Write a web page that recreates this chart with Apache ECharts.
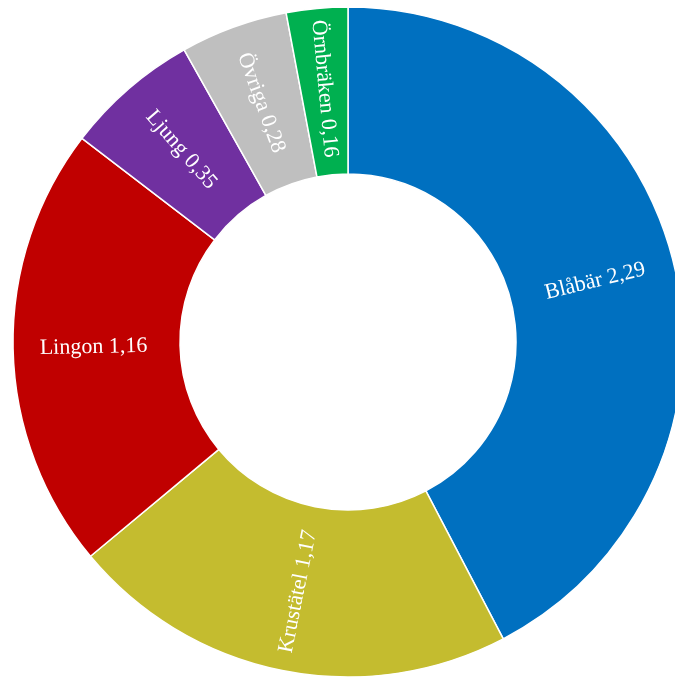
<!DOCTYPE html>
<html>
<head>
<meta charset="utf-8">
<style>
  html, body { margin: 0; padding: 0; background: #ffffff; }
  #chart { width: 675px; height: 681px; }
</style>
<script src="https://cdn.jsdelivr.net/npm/echarts@6/dist/echarts.min.js"></script>
</head>
<body>
<div id="chart"></div>
<script>
// Fältskiktets täckning per art
const categories = ['Blåbär', 'Krustätel', 'Lingon', 'Ljung', 'Övriga', 'Örnbräken'];
const values = [2.29, 1.17, 1.16, 0.35, 0.28, 0.16];
const colors = ['#0070C0', '#C4BC2F', '#C00000', '#7030A0', '#BFBFBF', '#00B050'];

const chart = echarts.init(document.getElementById('chart'), null, { renderer: 'canvas' });

chart.setOption({
  animation: false,
  backgroundColor: '#ffffff',
  series: [{
    type: 'pie',
    center: [348, 342],
    radius: [168, 335],
    startAngle: 90,
    clockwise: true,
    avoidLabelOverlap: false,
    data: categories.map((name, i) => ({
      name: name,
      value: values[i],
      itemStyle: { color: colors[i] }
    })),
    itemStyle: { borderColor: '#ffffff', borderWidth: 1.5 },
    label: {
      show: true,
      position: 'inside',
      rotate: 'radial',
      color: '#ffffff',
      fontFamily: '"Liberation Serif", "Times New Roman", serif',
      fontSize: 22,
      formatter: p => p.name + ' ' + p.value.toFixed(2).replace('.', ',')
    },
    labelLine: { show: false },
    emphasis: { disabled: true }
  }]
});
</script>
</body>
</html>
